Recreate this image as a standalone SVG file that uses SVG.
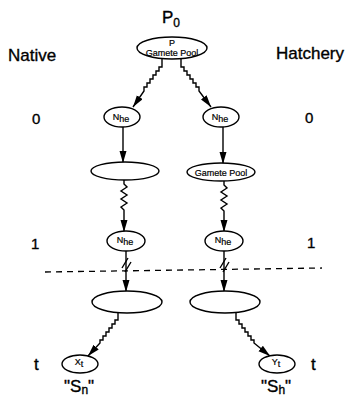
<svg xmlns="http://www.w3.org/2000/svg" width="348" height="398" viewBox="0 0 348 398">
<defs>
<marker id="ah" markerUnits="userSpaceOnUse" markerWidth="14" markerHeight="8" refX="12" refY="3.5" orient="auto">
<path d="M0,0 L12,3.5 L0,7 Z" fill="#000"/>
</marker>
<style>
text{font-family:"Liberation Sans",Arial,sans-serif;fill:#000;stroke:#000;stroke-width:0.35}
.lbl{font-size:17px}
.nd{fill:#fff;stroke:#000;stroke-width:1.4}
.sm{font-size:9px;stroke-width:0.2}
.c{fill:none;stroke:#000;stroke-width:1.4}
.ar{marker-end:url(#ah)}
</style>
</defs>
<rect width="348" height="398" fill="#fff"/>
<g id="labels">
<text class="lbl" x="162" y="23" font-size="18">P<tspan font-size="12" dy="4">0</tspan></text>
<text class="lbl" x="8" y="61">Native</text>
<text class="lbl" x="276" y="59">Hatchery</text>
<text x="32" y="124" font-size="15">0</text>
<text x="305" y="123" font-size="15">0</text>
<text x="31" y="249" font-size="15">1</text>
<text x="307" y="248" font-size="15">1</text>
<text class="lbl" x="34" y="370">t</text>
<text class="lbl" x="311" y="370">t</text>
<text x="64" y="392" font-size="17">"S<tspan font-size="12" dy="2">n</tspan><tspan dy="-2">"</tspan></text>
<text x="261" y="392" font-size="17">"S<tspan font-size="12" dy="2">h</tspan><tspan dy="-2">"</tspan></text>
</g>
<g id="connectors">
<path class="c ar" d="M162,59 V67 h-3 v4 h-3 v4 h-3 v4 h-3 v4 h-3 v4 h-3 v4 L133,107"/>
<path class="c ar" d="M181,59 V67 h3 v4 h3 v4 h3 v4 h3 v4 h3 v4 h3 v4 L211,107"/>
<path class="c ar" d="M123,127 V163"/>
<path class="c ar" d="M223,127 V164"/>
<path class="c ar" d="M124,180 V184 l3,3 l-6,4 l6,4 l-6,4 l6,4 l-6,4 l3,3 V232"/>
<path class="c ar" d="M224,181 V185 l3,3 l-6,4 l6,4 l-6,4 l6,4 l-6,4 l3,3 V232"/>
<path class="c ar" d="M126,251 V292"/>
<path class="c ar" d="M224,251 V292"/>
<path class="c" d="M122,268 L128,258 M125,272 L131,262"/>
<path class="c" d="M220,268 L226,258 M223,272 L229,262"/>
<path d="M45,272 L322,268" fill="none" stroke="#000" stroke-width="1.3" stroke-dasharray="6,5"/>
<path class="c ar" d="M118,313 V320 h-3 v4 h-3 v4 h-3 v4 h-3 v4 h-3 v4 h-3 v3 L88,356"/>
<path class="c ar" d="M236,313 V320 h3 v4 h3 v4 h3 v4 h3 v4 h3 v4 h3 v3 L270,356"/>
</g>
<g id="n-top"><ellipse class="nd" cx="172" cy="48" rx="35" ry="11"/><text class="sm" x="172" y="46" text-anchor="middle">P</text><text class="sm" x="172" y="56" text-anchor="middle">Gamete Pool</text></g>
<g id="n-nhe0-l"><ellipse class="nd" cx="122" cy="117" rx="18" ry="10"/><text class="sm" x="121" y="120" text-anchor="middle">N<tspan dy="2">he</tspan></text></g>
<g id="n-nhe0-r"><ellipse class="nd" cx="221" cy="117" rx="18" ry="10"/><text class="sm" x="220" y="120" text-anchor="middle">N<tspan dy="2">he</tspan></text></g>
<g id="n-e1-l"><ellipse class="nd" cx="125" cy="171" rx="34" ry="9"/></g>
<g id="n-gp-r"><ellipse class="nd" cx="221" cy="172" rx="34" ry="9"/><text class="sm" x="221" y="175.5" font-size="10" text-anchor="middle">Gamete Pool</text></g>
<g id="n-nhe1-l"><ellipse class="nd" cx="126" cy="241" rx="19" ry="10"/><text class="sm" x="125" y="243" text-anchor="middle">N<tspan dy="2">he</tspan></text></g>
<g id="n-nhe1-r"><ellipse class="nd" cx="224" cy="241" rx="19" ry="10"/><text class="sm" x="223" y="243" text-anchor="middle">N<tspan dy="2">he</tspan></text></g>
<g id="n-e2-l"><ellipse class="nd" cx="127" cy="302" rx="35" ry="11"/></g>
<g id="n-e2-r"><ellipse class="nd" cx="225" cy="302" rx="35" ry="11"/></g>
<g id="n-xt"><ellipse class="nd" cx="80" cy="364" rx="18" ry="9"/><text class="sm" x="79" y="365" font-size="8" text-anchor="middle">X<tspan dy="2">t</tspan></text></g>
<g id="n-yt"><ellipse class="nd" cx="277" cy="364" rx="18" ry="9"/><text class="sm" x="276" y="365" font-size="8" text-anchor="middle">Y<tspan dy="2">t</tspan></text></g>
</svg>
